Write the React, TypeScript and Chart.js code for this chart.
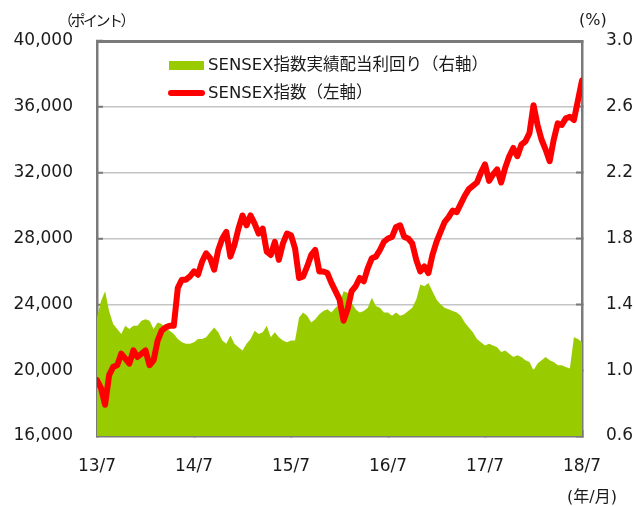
import React, { useEffect, useRef, useState } from 'react';
import { Chart, registerables } from 'chart.js';

Chart.register(...registerables);

// x axis: half-month steps from 13/7 (index 0) to 18/7 (index 120)
const xTickLabels = ['13/7', '14/7', '15/7', '16/7', '17/7', '18/7'];
const stepsPerYear = 24;

// SENSEX index (left axis, points), half-monthly
const sensexIndex = [
  19400, 18900, 17900, 19700, 20200, 20300, 21000, 20700, 20400, 21200,
  20800, 21000, 21200, 20300, 20600, 21800, 22400, 22600, 22700, 22700,
  25000, 25500, 25500, 25700, 26000, 25800, 26600, 27100, 26800, 26100,
  27300, 28000, 28400, 26900, 27600, 28600, 29400, 28800, 29400, 28900,
  28300, 28600, 27200, 27000, 27800, 26700, 27700, 28300, 28200, 27400,
  25600, 25700, 26300, 27000, 27300, 26000, 26000, 25900, 25300, 24800,
  24300, 23000, 23700, 24800, 25100, 25600, 25400, 26200, 26800, 26900,
  27300, 27800, 28000, 28100, 28700, 28800, 28100, 28000, 27700, 26700,
  26000, 26300, 25900, 27000, 27800, 28400, 29000, 29300, 29700, 29600,
  30100, 30600, 31000, 31200, 31400, 32000, 32500, 31500, 31900, 32200,
  31400, 32300, 33000, 33500, 33000, 33700, 33900, 34400, 36100, 34900,
  34000, 33400, 32700, 34000, 35000, 34900, 35300, 35400, 35200, 36400,
  37600,
];

// SENSEX trailing dividend yield (right axis, %), half-monthly
const dividendYield = [
  1.32, 1.42, 1.48, 1.36, 1.28, 1.25, 1.22, 1.27, 1.25, 1.27,
  1.27, 1.30, 1.31, 1.30, 1.25, 1.29, 1.28, 1.25, 1.24, 1.22,
  1.19, 1.17, 1.16, 1.16, 1.17, 1.19, 1.19, 1.20, 1.23, 1.26,
  1.23, 1.18, 1.16, 1.21, 1.16, 1.14, 1.12, 1.16, 1.19, 1.24,
  1.22, 1.23, 1.27, 1.20, 1.23, 1.20, 1.18, 1.17, 1.18, 1.18,
  1.32, 1.35, 1.33, 1.29, 1.31, 1.34, 1.36, 1.37, 1.35, 1.38,
  1.40, 1.48, 1.47, 1.41, 1.37, 1.35, 1.36, 1.38, 1.44, 1.39,
  1.38, 1.35, 1.35, 1.33, 1.35, 1.33, 1.34, 1.36, 1.38, 1.43,
  1.52, 1.51, 1.53, 1.48, 1.43, 1.40, 1.38, 1.37, 1.36, 1.35,
  1.33, 1.29, 1.26, 1.23, 1.19, 1.17, 1.15, 1.16, 1.15, 1.14,
  1.11, 1.12, 1.10, 1.08, 1.09, 1.08, 1.06, 1.05, 1.00, 1.04,
  1.06, 1.08, 1.06, 1.05, 1.03, 1.03, 1.02, 1.01, 1.20, 1.19,
  1.17,
];

const legendYield = 'SENSEX指数実績配当利回り（右軸）';
const legendIndex = 'SENSEX指数（左軸）';
const leftUnit = '（ポイント）';
const rightUnit = '(%)';
const xUnit = '(年/月)';

const FONT = '"DejaVu Sans", "Noto Sans CJK JP", sans-serif';
const TEXT = '#1a1a1a';
const GREEN = '#99CC00';
const RED = '#FF0000';
const AXIS = '#7a7a7a';
const GRID = '#c4c4c4';

type Area = { left: number; right: number; top: number; bottom: number };

export default function App() {
  const canvasRef = useRef<HTMLCanvasElement>(null);
  const [area, setArea] = useState<Area | null>(null);

  useEffect(() => {
    const canvas = canvasRef.current;
    if (!canvas) return;
    const chart: any = new Chart(canvas, {
      type: 'line',
      data: {
        datasets: [
          {
            label: legendIndex,
            data: sensexIndex.map((v, i) => ({ x: i, y: v })),
            yAxisID: 'y',
            borderColor: RED,
            backgroundColor: RED,
            borderWidth: 6,
            borderJoinStyle: 'round',
            borderCapStyle: 'round',
            pointRadius: 0,
            tension: 0,
            fill: false,
          },
          {
            label: legendYield,
            data: dividendYield.map((v, i) => ({ x: i, y: v })),
            yAxisID: 'y1',
            borderColor: GREEN,
            backgroundColor: GREEN,
            borderWidth: 0,
            pointRadius: 0,
            tension: 0,
            fill: 'start',
          },
        ],
      },
      options: {
        responsive: false,
        animation: false,
        devicePixelRatio: 1,
        layout: { padding: { top: 41, left: 0, right: 0, bottom: 0 } },
        plugins: {
          legend: { display: false },
          tooltip: { enabled: false },
        },
        scales: {
          x: {
            type: 'linear',
            min: 0,
            max: 120,
            z: 2,
            grid: {
              display: true,
              drawOnChartArea: false,
              drawTicks: true,
              tickLength: -6,
              tickColor: AXIS,
              tickWidth: 2,
            },
            border: { display: true, color: AXIS, width: 2.5 },
            ticks: {
              stepSize: stepsPerYear,
              autoSkip: false,
              maxRotation: 0,
              padding: 26,
              color: TEXT,
              font: { family: FONT, size: 17 },
              callback: (v: any) => xTickLabels[Math.round(Number(v) / stepsPerYear)] ?? '',
            },
            afterFit: (s: any) => {
              s.height = 70;
            },
          },
          y: {
            position: 'left',
            min: 16000,
            max: 40000,
            grid: {
              color: GRID,
              lineWidth: 1.5,
              drawTicks: true,
              tickLength: -6,
              tickColor: AXIS,
              tickWidth: 2,
            },
            border: { display: true, color: AXIS, width: 2.5 },
            ticks: {
              stepSize: 4000,
              padding: 30,
              color: TEXT,
              font: { family: FONT, size: 17 },
              callback: (v: any) => Number(v).toLocaleString('en-US'),
            },
            afterFit: (s: any) => {
              s.width = 97;
            },
          },
          y1: {
            position: 'right',
            min: 0.6,
            max: 3.0,
            z: 2,
            grid: {
              display: true,
              drawOnChartArea: false,
              drawTicks: true,
              tickLength: -6,
              tickColor: AXIS,
              tickWidth: 2,
            },
            border: { display: true, color: AXIS, width: 2.5 },
            ticks: {
              stepSize: 0.4,
              padding: 30,
              color: TEXT,
              font: { family: FONT, size: 17 },
              callback: (v: any) => Number(v).toFixed(1),
            },
            afterFit: (s: any) => {
              s.width = 53;
            },
          },
        },
      },
    } as any);

    const a = chart.chartArea;
    setArea({ left: a.left, right: a.right, top: a.top, bottom: a.bottom });
    return () => chart.destroy();
  }, []);

  const txt = (extra: React.CSSProperties): React.CSSProperties => ({
    position: 'absolute',
    whiteSpace: 'nowrap',
    fontFamily: FONT,
    color: TEXT,
    lineHeight: '20px',
    height: 20,
    ...extra,
  });

  return (
    <div style={{ position: 'absolute', left: 0, top: 0, width: 635, height: 506, background: '#fff' }}>
      <canvas ref={canvasRef} width={635} height={506} style={{ display: 'block' }} />
      {area && (
        <div
          style={{
            position: 'absolute',
            left: area.left - 1,
            top: area.top - 1,
            width: area.right - area.left + 2,
            height: 2.5,
            background: AXIS,
          }}
        />
      )}
      <div style={{ position: 'absolute', left: 169, top: 61, width: 35, height: 9, background: GREEN }} />
      <div style={txt({ left: 208, top: 55, fontSize: 16.5 })}>{legendYield}</div>
      <div style={{ position: 'absolute', left: 168, top: 90, width: 37, height: 6, borderRadius: 3, background: RED }} />
      <div style={txt({ left: 208, top: 83, fontSize: 16.5 })}>{legendIndex}</div>
      <div style={txt({ left: 58, top: 11, fontSize: 15, letterSpacing: '-2.5px' })}>{leftUnit}</div>
      <div style={txt({ left: 579, top: 10, fontSize: 16 })}>{rightUnit}</div>
      <div style={txt({ left: 567, top: 487, fontSize: 16 })}>{xUnit}</div>
    </div>
  );
}
